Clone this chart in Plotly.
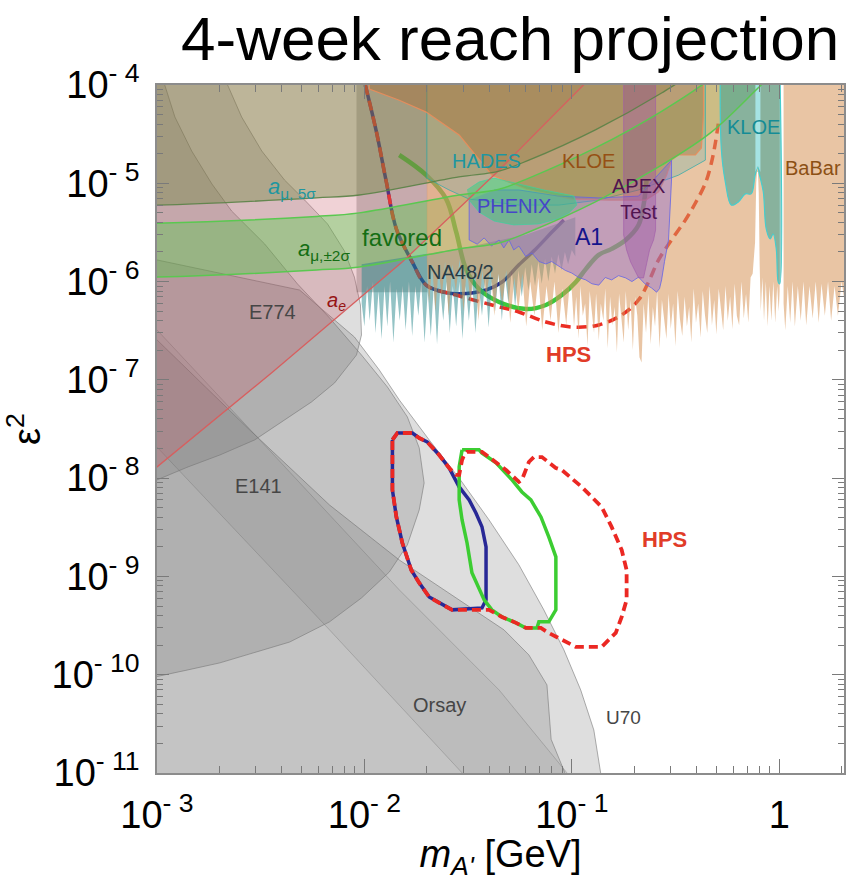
import numpy as np
import plotly.graph_objects as go

# ---------------- data (m in GeV, eps^2) ----------------
# gray beam-dump regions
u70_m = [5e-4, 1.0e-3, 4.87e-3, 8.95e-3, 0.0118, 0.01473, 0.02053, 0.02864, 0.0399, 0.0556, 0.0733, 0.0916, 0.1104, 0.1277, 0.1378, 0.139, 5e-4]
u70_e = [1.66e-6, 1.66e-6, 8.2e-7, 2.73e-7, 1.26e-7, 6.25e-8, 2.45e-8, 1.0e-8, 3.76e-9, 1.31e-9, 4.57e-10, 1.79e-10, 7.0e-11, 2.74e-11, 1.0e-11, 5e-12, 5e-12]

orsay_m = [5e-4, 1.0e-3, 2.80e-3, 6.79e-3, 0.01473, 0.02864, 0.0471, 0.06209, 0.0759, 0.0795, 0.0927, 0.095, 5e-4]
orsay_e = [2.55e-7, 2.55e-7, 3.09e-8, 5.33e-9, 1.47e-9, 5.77e-10, 2.86e-10, 1.59e-10, 7.87e-11, 2.2e-11, 1.0e-11, 5e-12, 5e-12]

band_m = [1.0e-3, 1.41e-3, 6.79e-3, 0.0303, 0.0968, 0.0446, 0.01473, 3.13e-3, 1.0e-3]
band_e = [2.07e-8, 9.6e-9, 2.86e-10, 9.5e-12, 9.5e-12, 7.0e-11, 7.3e-10, 2.45e-8, 3.22e-7]

e141_m = [5e-4, 1.05e-3, 1.09e-3, 1.22e-3, 1.47e-3, 1.84e-3, 2.29e-3, 3.30e-3, 4.76e-3, 6.79e-3, 9.68e-3, 0.01291, 0.01611, 0.01838, 0.01941,
          0.01838, 0.01611, 0.01319, 9.68e-3, 6.79e-3, 4.36e-3, 2.96e-3, 2.01e-3, 1.41e-3, 1.0e-3, 5e-4]
e141_e = [2e-4, 2e-4, 1.0e-4, 4.72e-5, 2.13e-5, 9.84e-6, 5.22e-6, 2.42e-6, 9.45e-7, 4.27e-7, 1.79e-7, 8.47e-8, 4.2e-8, 2.03e-8, 8.94e-9,
          4.75e-9, 2.09e-9, 1.11e-9, 6.04e-10, 3.45e-10, 2.15e-10, 1.67e-10, 1.32e-10, 1.12e-10, 9.5e-11, 7e-11]

e774_m = [5e-4, 2.05e-3, 2.19e-3, 2.56e-3, 3.20e-3, 4.12e-3, 5.15e-3, 6.64e-3, 8.01e-3, 8.95e-3, 9.57e-3, 9.68e-3, 9.16e-3, 8.01e-3,
          7.18e-3, 5.56e-3, 4.12e-3, 2.96e-3, 2.01e-3, 1.41e-3, 1.0e-3, 5e-4]
e774_e = [2e-4, 2e-4, 1.0e-4, 4.72e-5, 2.13e-5, 1.08e-5, 6.76e-6, 3.86e-6, 2.05e-6, 1.11e-6, 5.78e-7, 2.86e-7, 1.79e-7, 1.26e-7,
          9.3e-8, 5.96e-8, 3.91e-8, 2.45e-8, 1.72e-8, 1.30e-8, 9.6e-9, 7e-9]

graybox_m = [9.16e-3, 0.0201, 0.0201, 9.16e-3]
graybox_e = [2e-4, 2e-4, 7.8e-7, 7.8e-7]

# electron / muon g-2
ae_m = [5e-4, 1.0e-3, 3.61e-3, 0.01506, 0.0432, 0.1167, 0.15]
ae_e = [4.0e-9, 1.30e-8, 1.20e-7, 1.55e-6, 1.27e-5, 1.07e-4, 1.8e-4]

amu_m = [5e-4, 1.0e-3, 5.88e-3, 9.46e-3, 0.0286, 0.0446, 0.0621, 0.130, 0.271, 0.471, 0.819, 1.10]
amu_fav_lo = [1.10e-6, 1.11e-6, 1.31e-6, 1.41e-6, 2.15e-6, 2.47e-6, 3.19e-6, 6.46e-6, 1.53e-5, 3.32e-5, 1.0e-4, 1.8e-4]
amu_fav_hi = [3.9e-6, 3.93e-6, 4.6e-6, 5.0e-6, 7.6e-6, 8.7e-6, 1.13e-5, 2.29e-5, 5.4e-5, 1.18e-4, 3.5e-4, 6.4e-4]
amu_5sig = [6.0e-6, 6.0e-6, 7.1e-6, 7.6e-6, 1.16e-5, 1.33e-5, 1.72e-5, 3.5e-5, 8.3e-5, 1.8e-4, 5.4e-4, 9.7e-4]

# NA48/2 (spiky lower edge, then upper edge back)
na48_m = [0.0097, 0.0100, 0.0103, 0.0106, 0.0110, 0.0113, 0.0117, 0.0121, 0.0125, 0.0129, 0.0133, 0.0138, 0.0143, 0.0148,
          0.0153, 0.0158, 0.0164, 0.0170, 0.0176, 0.0182, 0.0188, 0.0195, 0.0202, 0.0209, 0.0216, 0.0224, 0.0232, 0.0240, 0.0249,
          0.0258, 0.0267, 0.0277, 0.0287, 0.0297, 0.0308, 0.0319, 0.0331, 0.0343, 0.0356, 0.0369, 0.0383, 0.0397, 0.0412, 0.0427,
          0.0443, 0.0460, 0.0477, 0.0495, 0.0514, 0.0533, 0.0553, 0.0574, 0.0596, 0.0618, 0.0641, 0.0665, 0.0690, 0.0716, 0.0743,
          0.0771, 0.0800, 0.0830, 0.0861, 0.0893, 0.0926, 0.0960, 0.100, 0.104]
na48_e = [6e-7, 3.5e-7, 9e-7, 4e-7, 1.0e-6, 3e-7, 8e-7, 2.6e-7, 9e-7, 3.5e-7, 1.0e-6, 2.4e-7, 8.5e-7, 4e-7,
          9e-7, 3.2e-7, 1.0e-6, 2.8e-7, 9e-7, 4.5e-7, 1.0e-6, 2.4e-7, 8e-7, 2.8e-7, 9e-7, 2.3e-7, 8.5e-7, 4e-7, 1.0e-6,
          3e-7, 9e-7, 3.5e-7, 1.0e-6, 2.6e-7, 9e-7, 4e-7, 1.0e-6, 3e-7, 9e-7, 4.5e-7, 1.1e-6, 3.4e-7, 1.0e-6, 5e-7,
          1.2e-6, 4e-7, 1.1e-6, 6e-7, 1.3e-6, 5.5e-7, 1.3e-6, 7e-7, 1.4e-6, 8e-7, 1.5e-6, 9e-7, 1.6e-6, 9.5e-7, 1.7e-6,
          1.0e-6, 1.8e-6, 1.2e-6, 1.9e-6, 1.3e-6, 2.0e-6, 1.5e-6, 2.1e-6, 1.8e-6]
na48_top_m = [0.104, 0.060, 0.030, 0.0097]
na48_top_e = [4.5e-6, 3.0e-6, 2.2e-6, 1.5e-6]

# BaBar (spiky), lower edge in three stretches plus a piece above the phi gap
babar_a_m = [0.0200, 0.0200, 0.0205, 0.0212, 0.0220, 0.0228, 0.0236, 0.0245, 0.0255, 0.0265, 0.0276, 0.0288, 0.0300, 0.0312, 0.0325,
             0.0340, 0.0355, 0.0370, 0.0387, 0.0405, 0.0423, 0.0442, 0.0462, 0.0483, 0.0505, 0.0528, 0.0552, 0.0577, 0.0603, 0.0630,
             0.0660, 0.0690, 0.0720, 0.0755, 0.0790, 0.0825, 0.0862, 0.0900, 0.0940, 0.0975]
babar_a_e = [2e-4, 1.6e-6, 6e-7, 1.5e-6, 5e-7, 1.4e-6, 7e-7, 1.6e-6, 4.5e-7, 1.5e-6, 8e-7, 1.7e-6, 5e-7, 1.4e-6, 6e-7,
             1.5e-6, 4e-7, 1.3e-6, 7e-7, 1.4e-6, 4.5e-7, 1.2e-6, 6e-7, 1.3e-6, 3.8e-7, 1.1e-6, 5e-7, 1.2e-6, 3.5e-7, 1.0e-6,
             4.5e-7, 1.1e-6, 3.2e-7, 9e-7, 4e-7, 1.0e-6, 3e-7, 8.5e-7, 3.6e-7, 9e-7]
babar_b_m = [0.100, 0.1025, 0.105, 0.108, 0.110, 0.113, 0.116, 0.119, 0.122, 0.125, 0.128, 0.131, 0.135, 0.138, 0.142, 0.145, 0.149,
             0.153, 0.157, 0.161, 0.165, 0.169, 0.173, 0.178, 0.182, 0.187, 0.192, 0.197, 0.202, 0.207, 0.212, 0.217, 0.222, 0.228,
             0.234, 0.240, 0.246, 0.252, 0.258, 0.265, 0.272, 0.279, 0.286, 0.293, 0.300, 0.308, 0.316, 0.324, 0.332, 0.341, 0.350,
             0.359, 0.368, 0.377, 0.387, 0.397, 0.407, 0.418, 0.428, 0.439, 0.450, 0.462, 0.474, 0.486, 0.498, 0.511, 0.524, 0.537,
             0.551, 0.565, 0.580, 0.595, 0.610, 0.625, 0.641, 0.658, 0.675, 0.692, 0.710, 0.728, 0.745]
babar_b_e = [8e-7, 3.5e-7, 7e-7, 2.6e-7, 9e-7, 4.5e-7, 6e-7, 2.2e-7, 8e-7, 5e-7, 3e-7, 7.5e-7, 2.5e-7, 6e-7, 4e-7, 8.5e-7, 2.1e-7,
             7e-7, 3.6e-7, 5.5e-7, 1.9e-7, 7.5e-7, 4.2e-7, 2.4e-7, 8e-7, 3.2e-7, 6.5e-7, 2.0e-7, 7e-7, 4.5e-7, 1.7e-7, 1.5e-7, 6e-7, 3e-7,
             7.5e-7, 2.3e-7, 5.5e-7, 3.5e-7, 8e-7, 2.1e-7, 6.5e-7, 4e-7, 2.6e-7, 7.5e-7, 3.3e-7, 6e-7, 2.2e-7, 8e-7, 4.2e-7, 2.8e-7, 7e-7,
             3.5e-7, 5.5e-7, 2.4e-7, 8.5e-7, 3.8e-7, 6e-7, 2.7e-7, 8e-7, 4.5e-7, 3e-7, 9e-7, 3.6e-7, 6.5e-7, 2.9e-7, 8.5e-7, 4.8e-7, 3.2e-7,
             9e-7, 4e-7, 7e-7, 3.3e-7, 9.5e-7, 4.5e-7, 3.6e-7, 1.0e-6, 4.2e-7, 7.5e-7, 3.8e-7, 1.1e-6, 1.2e-6]
babar_c_m = [0.765, 0.775, 0.782, 0.790, 0.797, 0.805, 0.815, 0.830, 0.845, 0.862, 0.880, 0.898, 0.917, 0.937, 0.957, 0.978, 0.995, 1.005, 1.005]
babar_c_e = [2.5e-6, 1.0e-5, 1.3e-5, 1.3e-5, 8e-6, 1.5e-6, 5e-7, 1.1e-6, 4e-7, 1.0e-6, 3.5e-7, 9e-7, 4e-7, 1.0e-6, 3.8e-7, 9e-7, 5e-7, 8e-7, 2e-4]
babar2_m = [1.05, 1.05, 1.07, 1.10, 1.13, 1.16, 1.19, 1.23, 1.27, 1.31, 1.35, 1.40, 1.45, 1.50, 1.55, 1.60, 1.66, 1.72, 1.78, 1.85, 1.92, 2.00, 2.10, 2.10]
babar2_e = [2e-4, 6e-7, 3.2e-7, 9e-7, 3.8e-7, 1.0e-6, 3.5e-7, 9e-7, 4e-7, 1.0e-6, 3.6e-7, 9e-7, 4.2e-7, 1.0e-6, 3.8e-7, 9.5e-7, 4.5e-7, 1.0e-6, 4e-7, 9e-7, 4.5e-7, 1.0e-6, 5e-7, 2e-4]

hades_m = [0.0200, 0.0200, 0.0256, 0.0320, 0.0556, 0.0866, 0.1349, 0.2099, 0.327, 0.4406, 0.4406]
hades_e = [2e-4, 1.13e-5, 8.55e-6, 6.9e-6, 6.0e-6, 6.0e-6, 6.76e-6, 8.55e-6, 1.21e-5, 1.72e-5, 2e-4]

kloe_m = [0.0104, 0.01057, 0.01473, 0.01987, 0.02864, 0.04121, 0.0601, 0.100, 0.1507, 0.2270, 0.2620, 0.2863, 0.3026, 0.3270, 0.3945, 0.4217, 0.4315, 0.4315]
kloe_e = [2e-4, 9.1e-5, 7.0e-5, 5.3e-5, 3.1e-5, 1.21e-5, 8.75e-6, 6.9e-6, 6.75e-6, 6.75e-6, 8.2e-6, 1.21e-5, 1.72e-5, 1.94e-5, 1.94e-5, 2.29e-5, 5e-5, 2e-4]

a1_m = [0.0320, 0.0320, 0.0350, 0.0378, 0.0410, 0.0446, 0.0470, 0.0498, 0.0525, 0.0556, 0.0600, 0.0643, 0.0695, 0.0750, 0.0800,
        0.0866, 0.0930, 0.100, 0.108, 0.1168, 0.125, 0.1349, 0.145, 0.1557, 0.168, 0.1818, 0.195, 0.2099, 0.225, 0.2427,
        0.2564, 0.2650, 0.2710, 0.2800, 0.2926, 0.3026, 0.3026, 0.2099, 0.1349, 0.0866, 0.0556, 0.0422]
a1_e = [6.76e-6, 2.65e-6, 2.4e-6, 2.78e-6, 2.3e-6, 2.65e-6, 2.2e-6, 2.65e-6, 2.1e-6, 2.30e-6, 1.8e-6, 1.95e-6, 1.6e-6, 1.51e-6, 1.6e-6,
        1.44e-6, 1.3e-6, 1.22e-6, 1.1e-6, 1.04e-6, 9.5e-7, 9.2e-7, 1.1e-6, 1.04e-6, 1.15e-6, 1.09e-6, 1.0e-6, 1.11e-6, 9.5e-7, 8.6e-7,
        7.8e-7, 8.5e-7, 1.04e-6, 1.6e-6, 2.65e-6, 1.08e-5, 1.72e-5, 7.4e-6, 7.1e-6, 7.4e-6, 8.55e-6, 8.55e-6]

apex_m = [0.1778, 0.1778, 0.1837, 0.1922, 0.2009, 0.2099, 0.2218, 0.2294, 0.2372, 0.2479, 0.2535, 0.2535]
apex_e = [2e-4, 2.98e-6, 2.1e-6, 1.58e-6, 1.31e-6, 1.09e-6, 1.09e-6, 1.48e-6, 2.1e-6, 2.65e-6, 3.35e-6, 2e-4]

phenix_m = [0.03126, 0.0357, 0.0422, 0.0556, 0.0733, 0.1023, 0.1058, 0.0968, 0.0848, 0.0694, 0.0526, 0.0422, 0.0357, 0.0320]
phenix_e = [8.55e-6, 1.03e-5, 1.13e-5, 9.84e-6, 8.55e-6, 7.43e-6, 6.0e-6, 4.99e-6, 4.33e-6, 3.86e-6, 3.77e-6, 4.13e-6, 5.1e-6, 6.76e-6]

kloe2_m = [0.520, 0.526, 0.550, 0.588, 0.635, 0.687, 0.733, 0.765, 0.787, 0.805, 0.838, 0.866, 0.905, 0.935, 0.968, 0.989, 1.005, 1.005]
kloe2_e = [2e-4, 2.23e-5, 1.03e-5, 6.0e-6, 6.45e-6, 7.8e-6, 7.8e-6, 1.2e-5, 1.45e-5, 1.2e-5, 8.2e-6, 3.43e-6, 2.71e-6, 3.05e-6, 2.15e-6, 9.9e-7, 9.45e-7, 2e-4]

stripe_m = [0.768, 0.812, 0.812, 0.790, 0.768]
stripe_e = [2e-4, 2e-4, 1.3e-5, 1.5e-5, 1.3e-5]

# projected reach curves
hps_up_m = [0.0101, 0.01143, 0.01276, 0.01426, 0.01703, 0.01987, 0.02767, 0.04121, 0.05555, 0.0750, 0.100, 0.1349, 0.1738,
            0.2099, 0.2344, 0.2620, 0.3026, 0.3533, 0.3945, 0.4406, 0.4710, 0.4923, 0.509]
hps_up_e = [1.0e-4, 3.33e-5, 1.03e-5, 3.43e-6, 1.58e-6, 9.2e-7, 7.3e-7, 5.78e-7, 4.9e-7, 3.88e-7, 3.45e-7, 3.62e-7, 4.57e-7,
            6.5e-7, 9.9e-7, 1.66e-6, 2.65e-6, 4.24e-6, 6.3e-6, 1.0e-5, 1.61e-5, 2.57e-5, 4.1e-5]

blue_up_m = [0.0101, 0.01143, 0.01276, 0.01426, 0.01703, 0.01987, 0.02425, 0.02864, 0.0386, 0.0461, 0.0556, 0.0671, 0.0802, 0.0916]
blue_up_e = [1.0e-4, 3.33e-5, 1.03e-5, 3.43e-6, 1.58e-6, 9.2e-7, 7.8e-7, 7.5e-7, 8.2e-7, 9.9e-7, 1.48e-6, 2.15e-6, 3.19e-6, 4.24e-6]

green_up_m = [0.01472, 0.01987, 0.0248, 0.0277, 0.0309, 0.0357, 0.0446, 0.0601, 0.0750, 0.0895, 0.1046, 0.1168, 0.1349, 0.1557,
              0.1818, 0.2099, 0.2218, 0.2294]
green_up_e = [1.94e-5, 1.21e-5, 6.9e-6, 3.2e-6, 1.34e-6, 8.4e-7, 6.2e-7, 5.26e-7, 5.78e-7, 7.3e-7, 9.9e-7, 1.34e-6, 1.87e-6, 2.15e-6,
              2.65e-6, 3.77e-6, 6.0e-6, 1.08e-5]

hps_lo_m = [0.01365, 0.01443, 0.01703, 0.01838, 0.02009, 0.02294, 0.02562, 0.02767, 0.02864, 0.02958, 0.03026, 0.03126, 0.0369,
            0.04312, 0.04818, 0.0556, 0.05749, 0.06209, 0.06566, 0.07178, 0.08375, 0.08951, 0.1117, 0.1393, 0.1556, 0.174, 0.1838,
            0.1838, 0.174, 0.1629, 0.1393, 0.1045, 0.08951, 0.07745, 0.07096, 0.06012, 0.05383, 0.04608, 0.0399, 0.02648, 0.02294,
            0.02053, 0.01838, 0.01683, 0.01524, 0.01426, 0.01365, 0.01365]
hps_lo_e = [2.45e-8, 2.88e-8, 2.88e-8, 2.56e-8, 2.34e-8, 1.72e-8, 1.27e-8, 1.08e-8, 1.08e-8, 1.53e-8, 1.72e-8, 1.85e-8, 1.85e-8,
            1.46e-8, 1.21e-8, 9.15e-9, 9.6e-9, 1.46e-8, 1.64e-8, 1.64e-8, 1.27e-8, 1.21e-8, 8.14e-9, 5.09e-9, 3.19e-9, 1.86e-9, 1.16e-9,
            5.77e-10, 3.87e-10, 2.66e-10, 1.92e-10, 1.92e-10, 2.26e-10, 2.66e-10, 2.99e-10, 2.99e-10, 3.37e-10, 3.87e-10, 4.57e-10, 4.57e-10, 5.37e-10,
            6.18e-10, 8.6e-10, 1.16e-9, 2.19e-9, 4.03e-9, 7.59e-9, 2.45e-8]

blue_lo_m = [0.01365, 0.01443, 0.01703, 0.01838, 0.02009, 0.02294, 0.02562, 0.02864, 0.0320, 0.0345, 0.0369, 0.0386, 0.0386, 0.0369,
             0.02648, 0.02294, 0.02053, 0.01838, 0.01683, 0.01524, 0.01426, 0.01365, 0.01365]
blue_lo_e = [2.45e-8, 2.88e-8, 2.88e-8, 2.56e-8, 2.34e-8, 1.72e-8, 1.27e-8, 8.14e-9, 6.0e-9, 4.42e-9, 3.19e-9, 2.0e-9, 5.77e-10, 4.78e-10,
             4.57e-10, 5.37e-10, 6.18e-10, 8.6e-10, 1.16e-9, 2.19e-9, 4.03e-9, 7.59e-9, 2.45e-8]

green_lo_m = [0.02958, 0.0357, 0.0369, 0.04312, 0.0515, 0.05749, 0.0635, 0.0710, 0.07745, 0.0838, 0.0838, 0.07745, 0.0694, 0.0679,
              0.06012, 0.05383, 0.04608, 0.0412, 0.0378, 0.0330, 0.03126, 0.02958, 0.02864, 0.02864, 0.02958]
green_lo_e = [1.94e-8, 1.94e-8, 1.80e-8, 1.43e-8, 9.6e-9, 7.24e-9, 6.0e-9, 4.03e-9, 2.52e-9, 1.58e-9, 4.57e-10, 3.45e-10, 3.45e-10, 2.99e-10,
              2.99e-10, 3.37e-10, 3.87e-10, 4.57e-10, 5.77e-10, 1.09e-9, 2.19e-9, 3.76e-9, 6.0e-9, 1.30e-8, 1.94e-8]

# ticks
x_tickvals = [1e-3, 1e-2, 1e-1, 1]
x_ticktext = ['10<sup>- 3</sup>', '10<sup>- 2</sup>', '10<sup>- 1</sup>', '1']
y_tickvals = [1e-11, 1e-10, 1e-9, 1e-8, 1e-7, 1e-6, 1e-5, 1e-4]
y_ticktext = ['10<sup>- 11</sup>', '10<sup>- 10</sup>', '10<sup>- 9</sup>', '10<sup>- 8</sup>',
              '10<sup>- 7</sup>', '10<sup>- 6</sup>', '10<sup>- 5</sup>', '10<sup>- 4</sup>']
x_minor = [k * 10.0 ** p for p in (-3, -2, -1, 0) for k in range(2, 10)]
y_minor = [k * 10.0 ** p for p in range(-11, -4) for k in range(2, 10)]

# ---------------- figure ----------------
fig = go.Figure()


def region(xs, ys, fill, lc='rgba(0,0,0,0)', lw=0.0, shape='linear'):
    fig.add_trace(go.Scatter(x=xs, y=ys, mode='lines', fill='toself', fillcolor=fill,
                             line=dict(color=lc, width=lw, shape=shape),
                             hoverinfo='skip', showlegend=False))


def curve(xs, ys, color, width, dash=None, shape='linear'):
    fig.add_trace(go.Scatter(x=xs, y=ys, mode='lines',
                             line=dict(color=color, width=width, dash=dash, shape=shape),
                             hoverinfo='skip', showlegend=False))


GRAY = 'rgba(105,105,105,0.22)'
GRAYL = 'rgba(120,120,120,0.6)'
region(u70_m, u70_e, GRAY, GRAYL, 1)
region(orsay_m, orsay_e, GRAY, GRAYL, 1)
region(band_m, band_e, 'rgba(105,105,105,0.08)', 'rgba(135,135,135,0.5)', 1)
region(e141_m, e141_e, GRAY, GRAYL, 1)
region(e774_m, e774_e, GRAY, GRAYL, 1)
region(graybox_m, graybox_e, 'rgba(95,100,95,0.35)')

# reach curves drawn underneath the coloured exclusions
curve(blue_up_m, blue_up_e, 'rgb(40,40,140)', 3.5, shape='spline')
curve(green_up_m, green_up_e, 'rgb(60,200,60)', 4.5, shape='spline')
curve(hps_up_m, hps_up_e, 'rgb(235,45,35)', 3.5, dash='10px,6px', shape='spline')

# g-2 regions
region(ae_m + [1e-4], ae_e + [2e-4], 'rgba(200,90,105,0.27)')
region(amu_m + [amu_m[-1], amu_m[0]], amu_5sig + [3e-3, 3e-3], 'rgba(105,135,55,0.38)', shape='spline')
region(amu_m + amu_m[::-1], amu_fav_hi + amu_fav_lo[::-1], 'rgba(70,205,60,0.35)', shape='spline')

# experiments
region(na48_m + na48_top_m, na48_e + na48_top_e, 'rgba(40,135,140,0.50)')
region(babar_a_m + babar_b_m + babar_c_m, babar_a_e + babar_b_e + babar_c_e, 'rgba(215,150,90,0.55)')
region(babar2_m, babar2_e, 'rgba(215,150,90,0.55)')
region(hades_m, hades_e, 'rgba(40,170,170,0.20)', 'rgba(40,170,170,0.7)', 1)
region(kloe_m, kloe_e, 'rgba(170,100,35,0.36)', 'rgba(235,140,90,0.9)', 1.2)
region(a1_m, a1_e, 'rgba(135,100,215,0.40)', 'rgba(100,100,230,0.8)', 1)
region(apex_m, apex_e, 'rgba(150,70,160,0.35)', 'rgba(160,90,170,0.6)', 1)
region(phenix_m, phenix_e, 'rgba(40,210,120,0.45)', 'rgba(60,210,160,0.7)', 1)
region(kloe2_m, kloe2_e, 'rgba(40,160,150,0.50)', 'rgb(70,205,205)', 1.2, shape='spline')
region(stripe_m, stripe_e, 'rgba(170,235,240,0.85)')

# boundary lines of g-2 bands
curve(ae_m, ae_e, 'rgb(215,95,95)', 1.3)
curve(amu_m, amu_5sig, 'rgba(90,130,70,0.9)', 1.3, shape='spline')
curve(amu_m, amu_fav_hi, 'rgb(90,200,80)', 1.5, shape='spline')
curve(amu_m, amu_fav_lo, 'rgb(90,200,80)', 1.5, shape='spline')

# closed reach contours
curve(blue_lo_m, blue_lo_e, 'rgb(40,40,150)', 3.5)
curve(green_lo_m, green_lo_e, 'rgb(60,205,50)', 3.5)
curve(hps_lo_m, hps_lo_e, 'rgb(235,40,35)', 3.8, dash='9px,5px')

# ---------------- labels ----------------
LF = 'Liberation Sans, Arial, sans-serif'


def label(text, m, e, color, size=20, bold=False):
    if bold:
        text = '<b>' + text + '</b>'
    fig.add_annotation(x=np.log10(m), y=np.log10(e), xref='x', yref='y', text=text, showarrow=False,
                       font=dict(family=LF, size=size, color=color), xanchor='center', yanchor='middle')


label('<i>a</i><sub>μ, 5σ</sub>', 4.46e-3, 8.95e-6, 'rgb(30,150,160)', 22)
label('<i>a</i><sub>μ,±2σ</sub>', 6.42e-3, 2.1e-6, 'rgb(20,110,20)', 22)
label('favored', 0.01524, 2.78e-6, 'rgb(20,110,20)', 24)
label('<i>a<sub>e</sub></i>', 7.33e-3, 6.2e-7, 'rgb(150,20,20)', 20)
label('E774', 3.61e-3, 4.9e-7, 'rgb(70,70,70)', 20)
label('E141', 3.09e-3, 8.3e-9, 'rgb(70,70,70)', 20)
label('Orsay', 0.02294, 4.93e-11, 'rgb(70,70,70)', 20)
label('U70', 0.1778, 3.63e-11, 'rgb(70,70,70)', 19)
label('NA48/2', 0.0292, 1.25e-6, 'rgb(40,60,70)', 20)
label('HADES', 0.0386, 1.69e-5, 'rgb(30,150,160)', 20)
label('KLOE', 0.1207, 1.69e-5, 'rgb(150,80,20)', 20)
label('PHENIX', 0.0526, 5.87e-6, 'rgb(70,70,200)', 20)
label('APEX<br>Test', 0.2099, 6.9e-6, 'rgb(80,20,80)', 20)
label('A1', 0.1207, 2.84e-6, 'rgb(20,20,140)', 23)
label('KLOE', 0.75, 3.74e-5, 'rgb(20,140,150)', 20)
label('BaBar', 1.455, 1.43e-5, 'rgb(140,80,20)', 20)
label('HPS', 0.0968, 1.83e-7, 'rgb(225,60,40)', 22, bold=True)
label('HPS', 0.280, 2.40e-9, 'rgb(225,60,40)', 22, bold=True)

fig.add_annotation(x=0.9956, y=1.068, xref='paper', yref='paper', text='4-week reach projection',
                   showarrow=False, xanchor='right', yanchor='middle',
                   font=dict(family=LF, size=62, color='black'))

TF = 'Liberation Sans Narrow, Liberation Sans, Arial, sans-serif'
axis_common = dict(type='log', showgrid=False, zeroline=False, showline=True, linecolor='#8c8c8c', linewidth=1.5,
                   mirror='allticks', ticks='inside', tickcolor='#7a7a7a', tickwidth=1.2,
                   tickfont=dict(family=TF, size=38, color='black'))

fig.update_layout(
    width=849, height=881,
    margin=dict(l=157, r=3, t=85, b=108),
    paper_bgcolor='white', plot_bgcolor='white',
    xaxis=dict(range=[-3, 0.3125], tickvals=x_tickvals, ticktext=x_ticktext, ticklen=14,
               minor=dict(tickvals=x_minor, ticks='inside', ticklen=7, tickcolor='#7a7a7a', showgrid=False),
               title=dict(text='<i>m</i><sub><i>A\'</i></sub> [GeV]', font=dict(family=TF, size=38, color='black'), standoff=6),
               ticklabelstandoff=8, **axis_common),
    yaxis=dict(range=[-11, -4], tickvals=y_tickvals, ticktext=y_ticktext, ticklen=12,
               minor=dict(tickvals=y_minor, ticks='inside', ticklen=6, tickcolor='#7a7a7a', showgrid=False),
               title=dict(text='ε<sup>2</sup>', font=dict(family=TF, size=38, color='black'), standoff=20),
               ticklabelstandoff=8, **axis_common),
)

fig.write_html('out.html')
